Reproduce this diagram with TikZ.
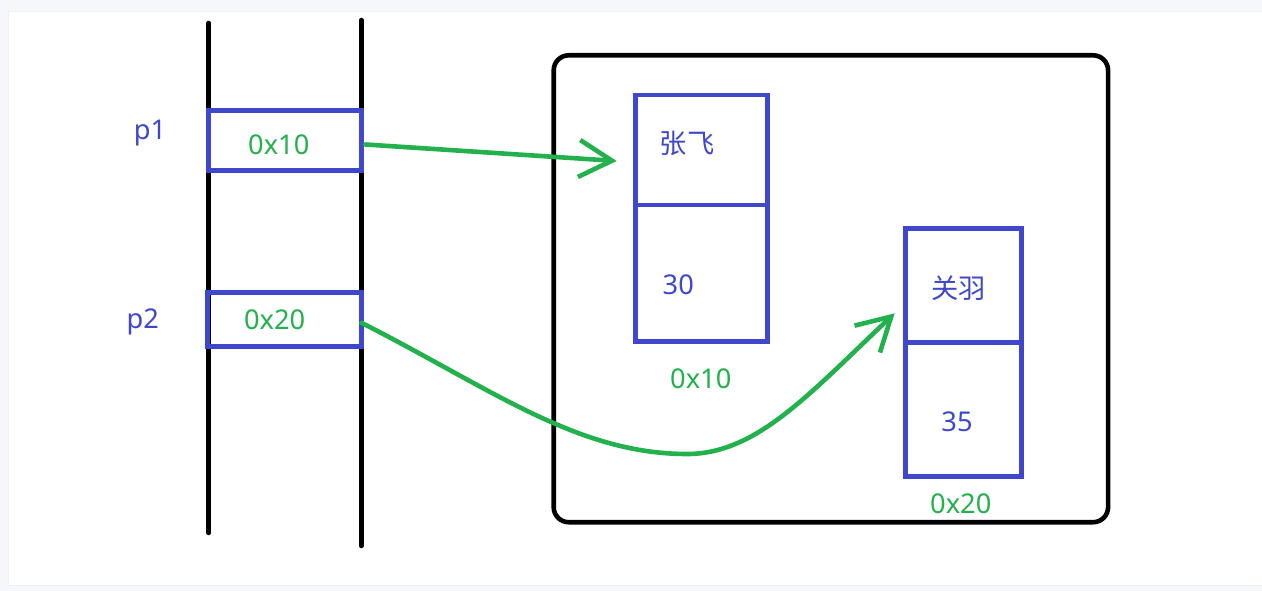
\documentclass[tikz,border=0pt]{standalone}
\usepackage{fontspec}
\setmainfont{Noto Sans}
\newfontfamily\cjk{Noto Sans CJK SC}
\usetikzlibrary{arrows.meta, positioning, calc}
\definecolor{inkblue}{RGB}{63,72,204}
\definecolor{inkgreen}{RGB}{34,177,76}
\definecolor{pagebg}{RGB}{245,247,250}
\tikzset{
  cell/.style   ={draw=inkblue, line width=0.095cm, inner sep=0pt, outer sep=0pt},
  pole/.style   ={line width=0.09cm, line cap=round},
  heapbox/.style={draw, line width=0.092cm, rounded corners=0.3cm,
                  inner sep=0pt, outer sep=0pt},
  tag/.style    ={text=inkblue, font=\fontsize{15.5}{18}\selectfont,
                  inner sep=0pt, anchor=base},
  hexval/.style ={text=inkgreen, font=\fontsize{15.5}{18}\selectfont,
                  inner sep=0pt, anchor=base},
  ptr/.style    ={draw=inkgreen, line width=0.092cm, line cap=round,
                  -{Straight Barb[length=0.66cm, width=0.74cm]}},
}

\begin{document}
\begin{tikzpicture}[x=0.02cm, y=-0.02cm]
  \useasboundingbox (0,0) rectangle (1262,591);
  \fill[pagebg] (0,0) rectangle (1262,591);
  \filldraw[fill=white, draw=black!6] (8,11) rectangle (1262,585);

  % stack
  \draw[pole] (208.7,23) -- (208.7,533);
  \draw[pole] (361.3,20) -- (361.3,546);
  \node[cell, minimum width=3.06cm, minimum height=1.2cm, anchor=north west]  (p1cell) at (208.5,110.5) {};
  \node[cell, minimum width=3.08cm, minimum height=1.08cm, anchor=north west] (p2cell) at (207.5,292.8) {};
  \node[tag]    (p1name) at (150,140)     {p1};
  \node[tag]    (p2name) at (142.7,328.5) {p2};
  \node[hexval] (p1val)  at (278.8,154.4) {0x10};
  \node[hexval] (p2val)  at (274.7,329.6) {0x20};

  % heap
  \node[heapbox, minimum width=11.09cm, minimum height=9.34cm, anchor=north west] (heap) at (553.7,55.3) {};
  \node[cell, minimum width=2.64cm, minimum height=2.2cm, anchor=north west] (zhangname) at (635.7,95) {};
  \node[cell, minimum width=2.64cm, minimum height=2.73cm, below=0pt of zhangname] (zhangage) {};
  \node[cell, minimum width=2.32cm, minimum height=2.28cm, anchor=north west] (guanname) at (905.7,228.3) {};
  \node[cell, minimum width=2.32cm, minimum height=2.68cm, below=0pt of guanname] (guanage) {};

  \node[tag]    (zhang)     at (687,154)     {\cjk 张飞};
  \node[tag]    (zhangnum)  at (678.3,295)   {30};
  \node[hexval] (zhangaddr) at (700.8,388.3) {0x10};
  \node[tag]    (guan)      at (958.7,298.7) {\cjk 关羽};
  \node[tag]    (guannum)   at (957,431.7)   {35};
  \node[hexval] (guanaddr)  at (960.8,513.3) {0x20};

  % pointers
  \coordinate (dip) at (687,454);
  \draw[ptr] ($(p1cell.east)+(4,4)$) -- ($(zhangname.west)+(-19,11)$);
  \draw[ptr] ($(p2cell.east)+(0,3)$) .. controls +(130,66) and +(-110,0) .. (dip)
             .. controls +(70,0) and +(-85,80) .. ($(guanname.west)+(-11,28)$);
\end{tikzpicture}
\end{document}
